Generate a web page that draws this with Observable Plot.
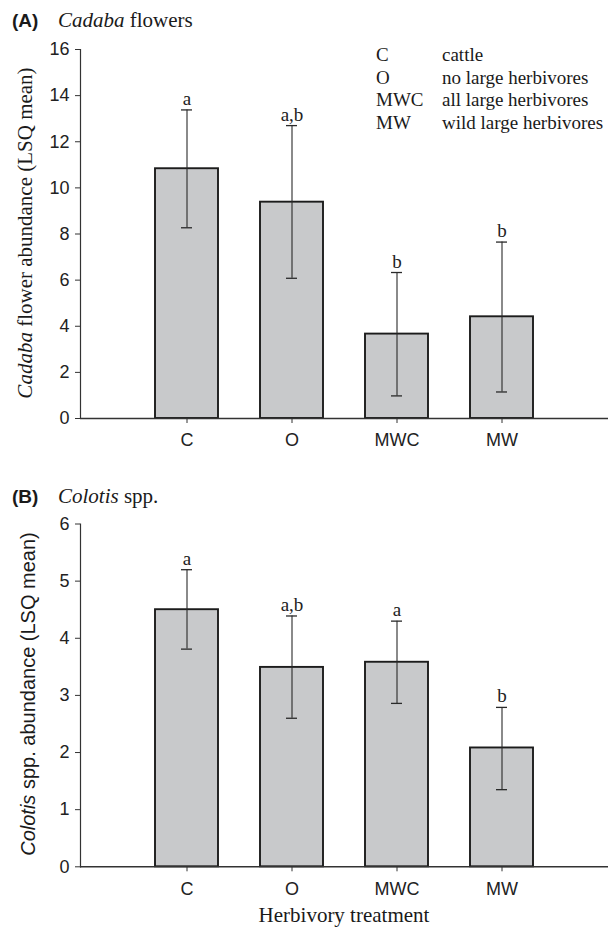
<!DOCTYPE html>
<html>
<head>
<meta charset="utf-8">
<script src="https://cdn.jsdelivr.net/npm/d3@7"></script>
<script src="https://cdn.jsdelivr.net/npm/@observablehq/plot@0.6"></script>
<style>
  html, body { margin: 0; padding: 0; background: #fff; }
  #wrap { position: relative; width: 611px; height: 929px; overflow: hidden; }
  #overlay { top: 0; pointer-events: none; }
</style>
</head>
<body>
<div id="wrap"></div>
<script>
// ---- data ----
const treatments = ["C", "O", "MWC", "MW"];

const cadabaMean  = [10.83, 9.38, 3.66, 4.41];
const cadabaUpper = [13.38, 12.70, 6.33, 7.65];
const cadabaLower = [8.27, 6.08, 0.98, 1.15];
const cadabaSig   = ["a", "a,b", "b", "b"];
const cadabaTicks = [0, 2, 4, 6, 8, 10, 12, 14, 16];

const colotisMean  = [4.50, 3.49, 3.58, 2.08];
const colotisUpper = [5.20, 4.39, 4.30, 2.79];
const colotisLower = [3.81, 2.60, 2.86, 1.35];
const colotisSig   = ["a", "a,b", "a", "b"];
const colotisTicks = [0, 1, 2, 3, 4, 5, 6];

const legendCodes  = ["C", "O", "MWC", "MW"];
const legendLabels = ["cattle", "no large herbivores", "all large herbivores", "wild large herbivores"];

// ---- helpers ----
function rows(mean, upper, lower, sig) {
  return treatments.map((t, i) => ({cat: t, mean: mean[i], hi: upper[i], lo: lower[i], sig: sig[i]}));
}

function panel(data, ymax, ticks, opts) {
  return Plot.plot({
    width: 611,
    height: opts.height,
    marginTop: opts.marginTop,
    marginBottom: opts.marginBottom,
    marginLeft: 80,
    marginRight: 3,
    style: {fontFamily: "Liberation Sans, Arial, sans-serif", fontSize: "18px", color: "#222", background: "transparent", overflow: "visible"},
    x: {type: "band", domain: treatments, paddingInner: 0.4, paddingOuter: 0.7},
    y: {domain: [0, ymax]},
    marks: [
      Plot.barY(data, {x: "cat", y: "mean", fill: "#c8c9cb", stroke: "#1c1c1c", strokeWidth: 1.9}),
      Plot.ruleX(data, {x: "cat", y1: "lo", y2: "hi", stroke: "#2a2a2a", strokeWidth: 1.1}),
      Plot.tickY(data, {x: "cat", y: "hi", inset: 26, stroke: "#2a2a2a", strokeWidth: 1.3}),
      Plot.tickY(data, {x: "cat", y: "lo", inset: 26, stroke: "#2a2a2a", strokeWidth: 1.3}),
      Plot.text(data, {x: "cat", y: "hi", text: "sig", dy: -5, lineAnchor: "bottom",
        fontFamily: "Liberation Serif, Times New Roman, serif", fontSize: 19, fill: "#222"}),
      Plot.ruleY([0], {stroke: "#333", strokeWidth: 1.5}),
      Plot.frame({anchor: "left", stroke: "#333", strokeWidth: 1.2}),
      Plot.axisY({ticks: ticks, tickFormat: d3.format("d"), tickSize: 5, tickPadding: 6, label: null, stroke: "#333", fontSize: 18}),
      Plot.axisX({tickSize: 5, tickPadding: 10, label: null, stroke: "#333", fontSize: 18})
    ]
  });
}

const wrap = document.getElementById("wrap");

const plotA = panel(rows(cadabaMean, cadabaUpper, cadabaLower, cadabaSig), 16, cadabaTicks,
  {height: 450, marginTop: 49, marginBottom: 32});
plotA.style.top = "0px";
plotA.style.left = "0px";
plotA.style.position = "absolute";
wrap.appendChild(plotA);

const plotB = panel(rows(colotisMean, colotisUpper, colotisLower, colotisSig), 6, colotisTicks,
  {height: 430, marginTop: 53.5, marginBottom: 33.7});
plotB.style.top = "470px";
plotB.style.left = "0px";
plotB.style.position = "absolute";
wrap.appendChild(plotB);

// ---- text overlay: titles, axis titles, legend ----
const serif = "Liberation Serif, Times New Roman, serif";
const sans = "Liberation Sans, Arial, sans-serif";
const ov = d3.create("svg").attr("id", "overlay").attr("width", 611).attr("height", 929)
  .style("position", "absolute").style("top", "0px").style("left", "0px");

function title(y, tag, italic, rest) {
  const t = ov.append("text").attr("x", 12).attr("y", y).attr("fill", "#1a1a1a");
  t.append("tspan").attr("font-family", sans).attr("font-weight", "bold").attr("font-size", 19).text(tag);
  t.append("tspan").attr("x", 58).attr("font-family", serif).attr("font-style", "italic").attr("font-size", 21).text(italic);
  t.append("tspan").attr("font-family", serif).attr("font-size", 21).text(" " + rest);
}
title(27, "(A)", "Cadaba", "flowers");
title(503, "(B)", "Colotis", "spp.");

// y-axis titles
const ya = ov.append("text").attr("transform", "translate(32,233) rotate(-90)")
  .attr("text-anchor", "middle").attr("font-family", serif).attr("font-size", 21).attr("fill", "#1a1a1a");
ya.append("tspan").attr("font-style", "italic").text("Cadaba");
ya.append("tspan").text(" flower abundance (LSQ mean)");

const yb = ov.append("text").attr("transform", "translate(35,694) rotate(-90)")
  .attr("text-anchor", "middle").attr("font-family", sans).attr("font-size", 20).attr("fill", "#1a1a1a");
yb.append("tspan").attr("font-style", "italic").text("Colotis");
yb.append("tspan").text(" spp. abundance (LSQ mean)");

// x-axis title
ov.append("text").attr("x", 344).attr("y", 922).attr("text-anchor", "middle")
  .attr("font-family", serif).attr("font-size", 21).attr("fill", "#1a1a1a").text("Herbivory treatment");

// legend
const legendY = [61, 84, 106, 129];
legendCodes.forEach((c, i) => {
  ov.append("text").attr("x", 376).attr("y", legendY[i]).attr("font-family", serif).attr("font-size", 19)
    .attr("fill", "#1a1a1a").text(c);
  ov.append("text").attr("x", 442).attr("y", legendY[i]).attr("font-family", serif).attr("font-size", 19)
    .attr("fill", "#1a1a1a").text(legendLabels[i]);
});

wrap.appendChild(ov.node());
</script>
</body>
</html>
